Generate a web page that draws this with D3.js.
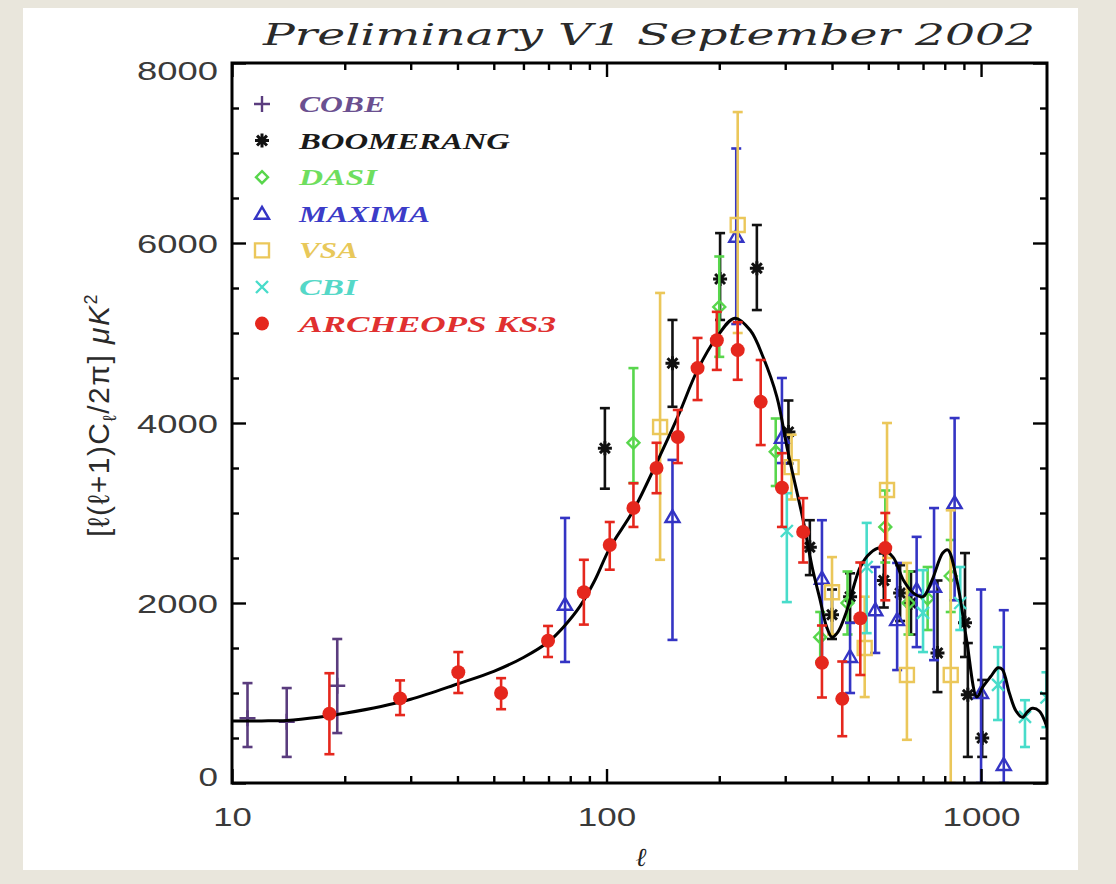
<!DOCTYPE html>
<html>
<head>
<meta charset="utf-8">
<script src="https://cdn.jsdelivr.net/npm/d3@7"></script>
<style>
  html, body { margin: 0; padding: 0; background: #e9e6dc; }
  svg { display: block; }
</style>
</head>
<body>
<svg id="chart" width="1116" height="884"></svg>
<script>
// CMB angular power spectrum: band powers per experiment, rows are [ell, value, low, high] in μK²
const cobe = [
  [11.0, 720, 400, 1110],
  [14.0, 680, 290, 1055],
  [19.1, 1080, 555, 1600]
];
const boomerang = [
  [99, 3720, 3270, 4165],
  [150, 4665, 4180, 5145],
  [201, 5600, 5145, 6110],
  [252, 5720, 5255, 6200],
  [306, 3900, 3550, 4250],
  [349, 2620, 2310, 2920],
  [400, 1870, 1600, 2150],
  [447, 2070, 1780, 2330],
  [550, 2250, 1950, 2550],
  [608, 2110, 1800, 2420],
  [650, 2000, 1650, 2350],
  [765, 1445, 1010, 2250],
  [906, 1780, 1400, 2555],
  [922, 980, 290, 1555],
  [1007, 500, 290, 1145]
];
const dasi = [
  [118, 3780, 3335, 4610],
  [200, 5290, 4735, 5850],
  [283, 3680, 3300, 4050],
  [372, 1620, 1350, 1900],
  [440, 2000, 1650, 2350],
  [555, 2845, 2450, 3250],
  [640, 2000, 1650, 2350],
  [720, 2050, 1700, 2400],
  [830, 2300, 1900, 2700]
];
const maxima = [
  [77.5, 1980, 1345, 2945],
  [150, 2955, 1590, 3590],
  [222, 6070, 5100, 7050],
  [294, 3835, 3555, 4500],
  [376, 2270, 1365, 2920],
  [447, 1400, 1000, 1780],
  [522, 1920, 1445, 2400],
  [597, 1810, 1255, 2445],
  [673, 2145, 1510, 2735],
  [749, 2180, 1365, 3055],
  [850, 3110, 2030, 4055],
  [1000, 1000, 0, 2150],
  [1150, 200, 0, 1920]
];
const vsa = [
  [139, 3955, 2480, 5445],
  [224, 6200, 5000, 7455],
  [312, 3510, 3150, 3870],
  [400, 2120, 1650, 2510],
  [489, 1500, 955, 2070],
  [561, 3255, 2500, 4000],
  [634, 1200, 480, 2445],
  [830, 1200, 0, 3030]
];
const cbi = [
  [303, 2800, 2010, 3220],
  [495, 2400, 1665, 2890],
  [700, 1890, 1455, 2365],
  [880, 2000, 1700, 2400],
  [1110, 1090, 700, 1510],
  [1310, 735, 400, 920],
  [1495, 950, 620, 1230]
];
const archeops = [
  [18.2, 770, 320, 1220],
  [28.1, 940, 755, 1140],
  [40.2, 1230, 1000, 1455],
  [52.3, 1000, 820, 1165],
  [69.8, 1580, 1400, 1745],
  [87, 2120, 1760, 2480],
  [102, 2645, 2370, 2900],
  [118, 3055, 2845, 3330],
  [136, 3500, 3220, 3780],
  [155, 3845, 3555, 4145],
  [175, 4610, 4255, 4945],
  [197, 4920, 4590, 5235],
  [224, 4810, 4480, 5120],
  [258, 4235, 3755, 4700],
  [294, 3280, 2845, 3665],
  [335, 2790, 2450, 3165],
  [376, 1335, 950, 1750],
  [426, 935, 520, 1350],
  [476, 1830, 1200, 2450],
  [555, 2610, 2030, 3000]
];

// Best-fit model spectrum, [ell, value]
const modelCurve = [
  [10, 690], [12, 690], [14, 695], [17, 730], [20, 775], [25, 850], [30, 930],
  [40, 1100], [50, 1240], [60, 1395], [70, 1570], [77, 1740],
  [85, 1965], [93, 2250], [102, 2610], [118, 3030], [136, 3555], [155, 4070],
  [175, 4590], [197, 4955], [220, 5165], [242, 5030], [262, 4730], [285, 4290],
  [305, 3680], [335, 2920], [354, 2400], [372, 2030], [387, 1735], [400, 1620],
  [415, 1680], [436, 1890], [476, 2400], [506, 2555], [537, 2610], [582, 2510],
  [620, 2255], [660, 2110], [700, 2070], [740, 2255], [790, 2555], [815, 2590],
  [862, 2250], [915, 1590], [975, 955], [1010, 1065], [1060, 1180], [1110, 1280],
  [1140, 1260], [1190, 1000], [1240, 800], [1290, 730], [1330, 790], [1370, 830],
  [1430, 800], [1500, 620]
];

// Axis ticks and labels
const xMajorTicks = [10, 100, 1000];
const xMinorTicks = [20, 30, 40, 50, 60, 70, 80, 90, 200, 300, 400, 500, 600, 700, 800, 900];
const yMajorTicks = [0, 2000, 4000, 6000, 8000];
const yMinorTicks = d3.range(500, 8000, 500).filter(v => v % 2000 !== 0);

const titleText = "Preliminary V1 September 2002";
const legendNames = ["COBE", "BOOMERANG", "DASI", "MAXIMA", "VSA", "CBI", "ARCHEOPS KS3"];

// Styling per experiment
const seriesList = [
  { name: "COBE", data: cobe, color: "#5a3c7e", text: "#6b5090", sym: "plus" },
  { name: "BOOMERANG", data: boomerang, color: "#111111", text: "#1a1a1a", sym: "star" },
  { name: "DASI", data: dasi, color: "#58d64c", text: "#6ede5e", sym: "diamond" },
  { name: "MAXIMA", data: maxima, color: "#3434c4", text: "#3c3cc8", sym: "triangle" },
  { name: "VSA", data: vsa, color: "#ebc75a", text: "#e8c85a", sym: "square" },
  { name: "CBI", data: cbi, color: "#48dcca", text: "#55d8c8", sym: "cross" },
  { name: "ARCHEOPS KS3", data: archeops, color: "#e5271d", text: "#e03030", sym: "circle" }
];

const legendWidths = { "COBE": 86, "BOOMERANG": 211, "DASI": 78, "MAXIMA": 131, "VSA": 59, "CBI": 58, "ARCHEOPS KS3": 257 };

const svg = d3.select("#chart");
const W = 1116, H = 884;
const plot = { left: 232, right: 1047, top: 63, bottom: 783 };

const x = d3.scaleLog().domain([10, 1500]).range([plot.left, plot.right]);
const y = d3.scaleLinear().domain([0, 8000]).range([plot.bottom, plot.top]);

// page background and white sheet
svg.append("rect").attr("width", W).attr("height", H).attr("fill", "#e9e6dc");
svg.append("rect").attr("x", 23).attr("y", 8).attr("width", 1055).attr("height", 862).attr("fill", "#ffffff");

svg.append("defs").append("clipPath").attr("id", "plotClip")
  .append("rect")
  .attr("x", plot.left).attr("y", plot.top)
  .attr("width", plot.right - plot.left).attr("height", plot.bottom - plot.top);

// symbol paths centred at origin
function symbolPath(sym) {
  switch (sym) {
    case "plus": return "M-8,0H8M0,-8V8";
    case "star": {
      const r = 7, d = r * Math.SQRT1_2;
      return `M${-r},0H${r}M0,${-r}V${r}M${-d},${-d}L${d},${d}M${-d},${d}L${d},${-d}`;
    }
    case "diamond": return "M0,-6L6,0L0,6L-6,0Z";
    case "triangle": return "M0,-7L7,5H-7Z";
    case "square": return "M-7,-7H7V7H-7Z";
    case "cross": return "M-6,-6L6,6M-6,6L6,-6";
    default: return null;
  }
}

function drawMarker(g, sym, color, cx, cy) {
  if (sym === "circle") {
    g.append("circle").attr("cx", cx).attr("cy", cy).attr("r", 7).attr("fill", color);
  } else {
    g.append("path").attr("d", symbolPath(sym))
      .attr("transform", `translate(${cx},${cy})`)
      .attr("fill", "none").attr("stroke", color)
      .attr("stroke-width", sym === "star" ? 3 : 2.4)
      .attr("stroke-linejoin", "miter");
  }
}

const dataLayer = svg.append("g").attr("clip-path", "url(#plotClip)");

function drawSeries(s) {
  const g = dataLayer.append("g").attr("class", "series");
  s.data.forEach(([l, v, lo, hi]) => {
    const cx = x(l);
    g.append("line")
      .attr("x1", cx).attr("x2", cx)
      .attr("y1", y(lo)).attr("y2", y(hi))
      .attr("stroke", s.color).attr("stroke-width", 2.6);
    [lo, hi].forEach(e => {
      g.append("line")
        .attr("x1", cx - 5).attr("x2", cx + 5)
        .attr("y1", y(e)).attr("y2", y(e))
        .attr("stroke", s.color).attr("stroke-width", 2.6);
    });
    drawMarker(g, s.sym, s.color, cx, y(v));
  });
}

seriesList.slice(0, 6).forEach(drawSeries);

// model curve
const line = d3.line()
  .x(d => x(d[0]))
  .y(d => y(d[1]))
  .curve(d3.curveCatmullRom.alpha(0.5));
dataLayer.append("path")
  .datum(modelCurve)
  .attr("d", line)
  .attr("fill", "none")
  .attr("stroke", "#000")
  .attr("stroke-width", 3);

drawSeries(seriesList[6]);

// axes: frame with inward ticks on all four sides
const axisG = svg.append("g");
const labelFont = "'Liberation Sans', Arial, sans-serif";

function styleTicks(g) {
  g.select(".domain").remove();
  g.selectAll(".tick line").attr("stroke", "#000").attr("stroke-width", 2.4);
}

const gxb = axisG.append("g").attr("transform", `translate(0,${plot.bottom})`)
  .call(d3.axisBottom(x).tickValues(xMajorTicks).tickSize(-14).tickPadding(25).tickFormat(d3.format("d")));
styleTicks(gxb);
gxb.selectAll(".tick text")
  .attr("font-family", labelFont).attr("font-size", 26).attr("fill", "#3a3a3a")
  .attr("textLength", d => String(d).length * 19.8 - 1)
  .attr("lengthAdjust", "spacingAndGlyphs");

styleTicks(axisG.append("g").attr("transform", `translate(0,${plot.bottom})`)
  .call(d3.axisBottom(x).tickValues(xMinorTicks).tickSize(-7).tickFormat("")));
styleTicks(axisG.append("g").attr("transform", `translate(0,${plot.top})`)
  .call(d3.axisTop(x).tickValues(xMajorTicks).tickSize(-14).tickFormat("")));
styleTicks(axisG.append("g").attr("transform", `translate(0,${plot.top})`)
  .call(d3.axisTop(x).tickValues(xMinorTicks).tickSize(-7).tickFormat("")));

const gyl = axisG.append("g").attr("transform", `translate(${plot.left},0)`)
  .call(d3.axisLeft(y).tickValues(yMajorTicks).tickSize(-14).tickPadding(14).tickFormat(d3.format("d")));
styleTicks(gyl);
gyl.selectAll(".tick text")
  .attr("font-family", labelFont).attr("font-size", 26).attr("fill", "#3a3a3a")
  .attr("dy", d => d === 8000 ? "0.62em" : d === 0 ? "0.1em" : "0.36em")
  .attr("textLength", d => String(d).length * 20.5 - 1)
  .attr("lengthAdjust", "spacingAndGlyphs");

styleTicks(axisG.append("g").attr("transform", `translate(${plot.left},0)`)
  .call(d3.axisLeft(y).tickValues(yMinorTicks).tickSize(-7).tickFormat("")));
styleTicks(axisG.append("g").attr("transform", `translate(${plot.right},0)`)
  .call(d3.axisRight(y).tickValues(yMajorTicks).tickSize(-14).tickFormat("")));
styleTicks(axisG.append("g").attr("transform", `translate(${plot.right},0)`)
  .call(d3.axisRight(y).tickValues(yMinorTicks).tickSize(-7).tickFormat("")));

axisG.append("rect")
  .attr("x", plot.left).attr("y", plot.top)
  .attr("width", plot.right - plot.left).attr("height", plot.bottom - plot.top)
  .attr("fill", "none").attr("stroke", "#000").attr("stroke-width", 3);

// title
svg.append("text")
  .attr("x", 263).attr("y", 45)
  .attr("font-family", "'DejaVu Serif', 'Liberation Serif', serif")
  .attr("font-style", "italic")
  .attr("font-size", 30)
  .attr("fill", "#2a2a2a")
  .attr("textLength", 772)
  .attr("lengthAdjust", "spacingAndGlyphs")
  .text(titleText);

// axis titles
svg.append("text")
  .attr("x", 641).attr("y", 866)
  .attr("text-anchor", "middle")
  .attr("font-family", "'DejaVu Serif', serif")
  .attr("font-style", "italic")
  .attr("font-size", 26)
  .attr("fill", "#222")
  .text("ℓ");

const yTitle = svg.append("text")
  .attr("transform", "translate(109,415) rotate(-90)")
  .attr("text-anchor", "middle")
  .attr("font-family", labelFont)
  .attr("font-size", 30)
  .attr("letter-spacing", 1.5)
  .attr("fill", "#2a2a2a");
yTitle.append("tspan").text("[ℓ(ℓ+1)C");
yTitle.append("tspan").attr("font-size", 19).attr("dy", 7).text("ℓ");
yTitle.append("tspan").attr("dy", -7).text("/2π] ");
yTitle.append("tspan").attr("font-style", "italic").text("μK");
yTitle.append("tspan").attr("font-size", 18).attr("dy", -12).text("2");

// legend
const legend = svg.append("g");
legendNames.forEach((name, i) => {
  const s = seriesList.find(d => d.name === name);
  const cy = 104 + i * 36.6;
  drawMarker(legend, s.sym, s.color, 262, cy);
  legend.append("text")
    .attr("x", 299).attr("y", cy + 8)
    .attr("font-family", "'Liberation Serif', 'DejaVu Serif', serif")
    .attr("font-style", "italic")
    .attr("font-weight", "bold")
    .attr("font-size", 24)
    .attr("fill", s.text)
    .attr("textLength", legendWidths[name])
    .attr("lengthAdjust", "spacingAndGlyphs")
    .text(name);
});
</script>
</body>
</html>
